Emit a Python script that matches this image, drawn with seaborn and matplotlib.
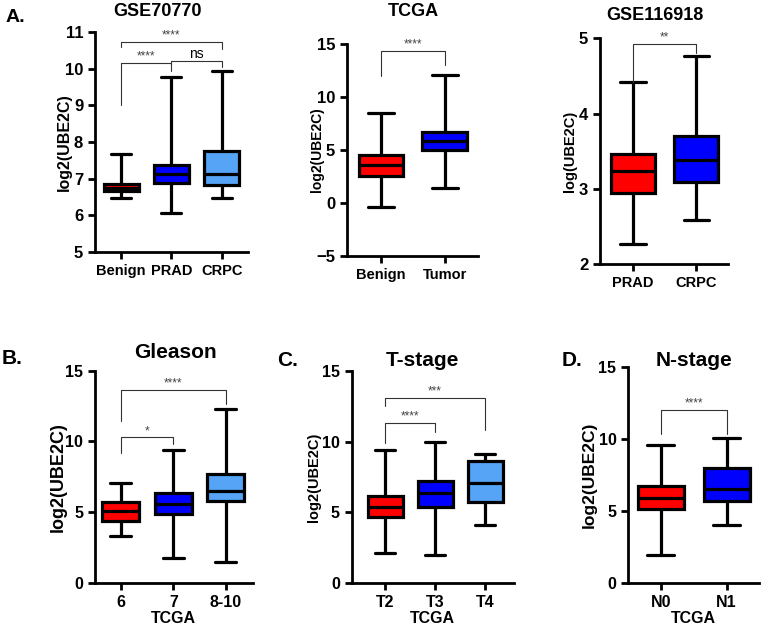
import pandas as pd
import matplotlib
matplotlib.use('Agg')
import matplotlib.pyplot as plt
import seaborn as sns

# Five-number summaries: [min, Q1, median, Q3, max]
gse70770_groups = ['Benign', 'PRAD', 'CRPC']
gse70770_stats = [[6.47, 6.65, 6.75, 6.85, 7.68],
                  [6.07, 6.87, 7.12, 7.38, 9.78],
                  [6.48, 6.83, 7.13, 7.75, 9.93]]

tcga_groups = ['Benign', 'Tumor']
tcga_stats = [[-0.4, 2.58, 3.58, 4.53, 8.46],
              [1.45, 5.0, 5.88, 6.73, 12.1]]

gse116918_groups = ['PRAD', 'CRPC']
gse116918_stats = [[2.27, 2.95, 3.23, 3.46, 4.42],
                   [2.58, 3.09, 3.38, 3.70, 4.76]]

gleason_groups = ['6', '7', '8-10']
gleason_stats = [[3.33, 4.37, 5.07, 5.69, 7.03],
                 [1.73, 4.86, 5.57, 6.37, 9.39],
                 [1.49, 5.78, 6.49, 7.67, 12.27]]

tstage_groups = ['T2', 'T3', 'T4']
tstage_stats = [[2.12, 4.67, 5.38, 6.13, 9.39],
                [1.96, 5.38, 6.33, 7.19, 9.98],
                [4.08, 5.69, 7.08, 8.63, 9.11]]

nstage_groups = ['N0', 'N1']
nstage_stats = [[1.92, 5.09, 5.90, 6.71, 9.56],
                [4.00, 5.69, 6.48, 7.94, 10.02]]

# significance brackets: (left group, right group, top, left leg end, right leg end, label)
gse70770_brackets = [(0, 2, 10.74, 10.6, 10.54, '****'),
                     (0, 1, 10.16, 9.0, 9.95, '****'),
                     (1, 2, 10.2, 10.1, 10.05, 'ns')]
tcga_brackets = [(0, 1, 14.37, 12.0, 13.0, '****')]
gse116918_brackets = [(0, 1, 4.93, 4.42, 4.8, '**')]
gleason_brackets = [(0, 2, 13.64, 11.46, 12.63, '****'),
                    (0, 1, 10.29, 9.15, 9.79, '*')]
tstage_brackets = [(0, 2, 13.11, 12.5, 10.85, '***'),
                   (0, 1, 11.32, 9.9, 10.69, '****')]
nstage_brackets = [(0, 1, 12.0, 10.31, 10.31, '****')]

RED = '#FF0000'
BLUE = '#0000FF'
LIGHT_BLUE = '#55A4F6'

sns.set_style('ticks')
plt.rcParams['font.family'] = ['Liberation Sans', 'DejaVu Sans']
plt.rcParams['font.weight'] = 'bold'
plt.rcParams['axes.labelweight'] = 'bold'
for key in ['text.color', 'axes.labelcolor', 'xtick.color', 'ytick.color', 'axes.edgecolor']:
    plt.rcParams[key] = 'black'


def long_table(groups, stats):
    rows = []
    for g, s in zip(groups, stats):
        for v in s:
            rows.append({'group': g, 'value': v})
    return pd.DataFrame(rows)


def draw_panel(rect, groups, stats, colors, brackets, ylim, yticks, xlim,
               ylabel, ylabel_size, ylabel_x, xtick_size, ytick_size=12, xlabel=''):
    ax = fig.add_axes(rect)
    df = long_table(groups, stats)
    sns.boxplot(data=df, x='group', y='value', hue='group', order=groups,
                hue_order=groups, palette=colors, whis=(0, 100), width=0.7,
                linewidth=2.3, linecolor='black', showfliers=False,
                saturation=1, legend=False, capwidths=0.4, ax=ax)
    for i, j, top, lend, rend, label in brackets:
        ax.plot([i, i, j, j], [lend, top, top, rend], color='#333333',
                lw=0.8, clip_on=False)
        if label == 'ns':
            ax.text((i + j) / 2, top, label, ha='center', va='bottom',
                    fontsize=10, fontweight='normal', color='black')
        else:
            ax.text((i + j) / 2, top, label, ha='center', va='bottom',
                    fontsize=8.5, fontweight='normal', color='#444444')
    ax.set_xlim(*xlim)
    ax.set_ylim(*ylim)
    ax.set_yticks(yticks)
    ax.set_ylabel(ylabel, fontsize=ylabel_size, fontweight='bold')
    ax.yaxis.set_label_coords(ylabel_x, 0.5)
    ax.set_xlabel(xlabel, fontsize=11.5, fontweight='bold', labelpad=1)
    sns.despine(ax=ax)
    for side in ['left', 'bottom']:
        ax.spines[side].set_linewidth(2)
    ax.tick_params(width=2, length=5)
    ax.tick_params(axis='y', labelsize=ytick_size)
    ax.tick_params(axis='x', labelsize=xtick_size)
    return ax


fig = plt.figure(figsize=(7.63, 6.26), dpi=100)
W, H = 763.0, 626.0


def rect(x0, x1, ytop, ybot):
    return [x0 / W, 1 - ybot / H, (x1 - x0) / W, (ybot - ytop) / H]


draw_panel(rect(95, 248.3, 32, 252), gse70770_groups, gse70770_stats,
           [RED, BLUE, LIGHT_BLUE], gse70770_brackets, (5, 11),
           range(5, 12), (-0.52, 2.53), 'log2(UBE2C)', 11.5, -0.153, 10.5)
draw_panel(rect(347, 478, 44, 256), tcga_groups, tcga_stats,
           [RED, BLUE], tcga_brackets, (-5, 15), [-5, 0, 5, 10, 15],
           (-0.53, 1.52), 'log2(UBE2C)', 10, -0.178, 10.5)
draw_panel(rect(600, 728, 38.3, 264), gse116918_groups, gse116918_stats,
           [RED, BLUE], gse116918_brackets, (2, 5), [2, 3, 4, 5],
           (-0.52, 1.5), 'log(UBE2C)', 10.5, -0.18, 10.5)
draw_panel(rect(95, 252.7, 370.7, 582.7), gleason_groups, gleason_stats,
           [RED, BLUE, LIGHT_BLUE], gleason_brackets, (0, 15),
           [0, 5, 10, 15], (-0.49, 2.51), 'log2(UBE2C)', 13, -0.18, 11.5,
           ytick_size=11.5, xlabel='TCGA')
draw_panel(rect(351.7, 514, 371, 582.7), tstage_groups, tstage_stats,
           [RED, BLUE, LIGHT_BLUE], tstage_brackets, (0, 15),
           [0, 5, 10, 15], (-0.67, 2.58), 'log2(UBE2C)', 10.5, -0.19, 11.5,
           ytick_size=11.5, xlabel='TCGA')
draw_panel(rect(628.3, 759, 366.7, 582.7), nstage_groups, nstage_stats,
           [RED, BLUE], nstage_brackets, (0, 15), [0, 5, 10, 15],
           (-0.49, 1.49), 'log2(UBE2C)', 12.5, -0.24, 11.5,
           ytick_size=11.5, xlabel='TCGA')

# panel titles and letters
fig.text(157 / W, 1 - 12 / H, 'GSE70770', ha='center', va='center', fontsize=13, fontweight='bold')
fig.text(413 / W, 1 - 12 / H, 'TCGA', ha='center', va='center', fontsize=13, fontweight='bold')
fig.text(655 / W, 1 - 16 / H, 'GSE116918', ha='center', va='center', fontsize=13, fontweight='bold')
fig.text(175 / W, 1 - 352 / H, 'Gleason', ha='center', va='center', fontsize=15, fontweight='bold')
fig.text(422 / W, 1 - 360 / H, 'T-stage', ha='center', va='center', fontsize=15, fontweight='bold')
fig.text(694 / W, 1 - 360 / H, 'N-stage', ha='center', va='center', fontsize=15, fontweight='bold')
fig.text(15 / W, 1 - 18 / H, 'A.', ha='center', va='center', fontsize=14, fontweight='bold')
fig.text(12 / W, 1 - 358 / H, 'B.', ha='center', va='center', fontsize=15, fontweight='bold')
fig.text(288 / W, 1 - 360 / H, 'C.', ha='center', va='center', fontsize=15, fontweight='bold')
fig.text(572 / W, 1 - 360 / H, 'D.', ha='center', va='center', fontsize=15, fontweight='bold')

fig.savefig('out.png', dpi=100)
